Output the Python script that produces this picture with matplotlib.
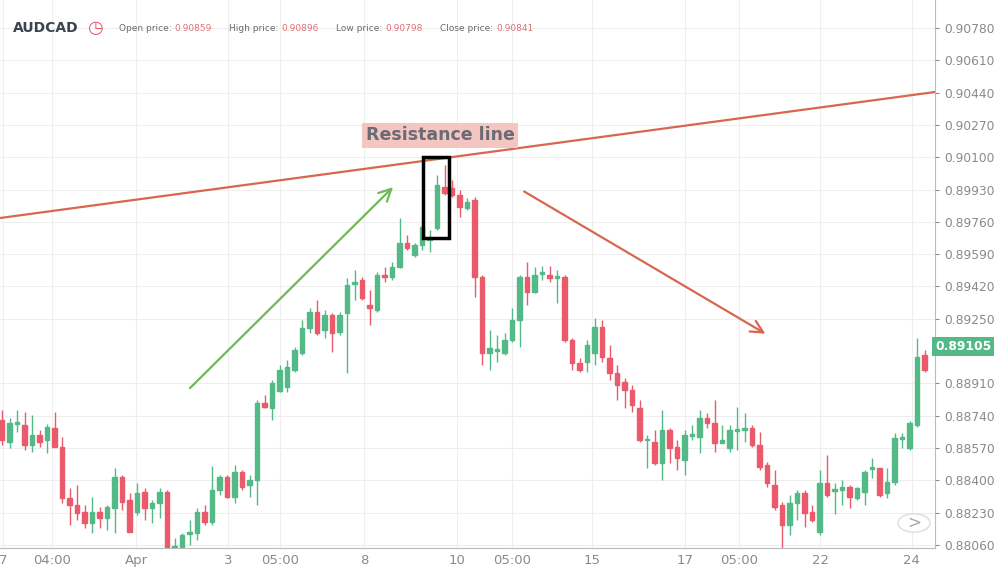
import matplotlib
matplotlib.use("Agg")
import matplotlib.pyplot as plt
from matplotlib.patches import Rectangle, Circle

opens = [0.88717,0.88601,0.88696,0.88690,0.88585,0.88638,0.88611,0.88674,0.88574,0.88306,
0.88269,0.88232,0.88174,0.88232,0.88201,0.88253,0.88416,0.88295,0.88232,0.88338,
0.88253,0.88280,0.88338,0.88043,0.88048,0.88117,0.88122,0.88232,0.88180,0.88348,
0.88416,0.88311,0.88443,0.88375,0.88401,0.88806,0.88780,0.88872,0.88890,0.88980,
0.89069,0.89201,0.89285,0.89190,0.89269,0.89180,0.89280,0.89432,0.89453,0.89322,
0.89295,0.89480,0.89469,0.89522,0.89648,0.89585,0.89638,0.89664,0.89727,0.89943,
0.89937,0.89901,0.89832,0.89874,0.89469,0.89069,0.89080,0.89069,0.89138,0.89243,
0.89469,0.89390,0.89485,0.89480,0.89464,0.89469,0.89138,0.89017,0.89022,0.89069,
0.89206,0.89043,0.88964,0.88917,0.88874,0.88780,0.88611,0.88601,0.88490,0.88664,
0.88574,0.88506,0.88632,0.88627,0.88727,0.88701,0.88596,0.88569,0.88659,0.88664,
0.88674,0.88585,0.88480,0.88375,0.88269,0.88164,0.88280,0.88332,0.88232,0.88127,
0.88385,0.88343,0.88348,0.88364,0.88306,0.88338,0.88459,0.88464,0.88332,0.88390,
0.88617,0.88569,0.88690,0.89059]
closes = [0.88611,0.88701,0.88706,0.88585,0.88638,0.88601,0.88680,0.88574,0.88306,0.88269,
0.88227,0.88174,0.88232,0.88201,0.88259,0.88416,0.88285,0.88127,0.88332,0.88253,
0.88280,0.88338,0.88043,0.88053,0.88111,0.88127,0.88232,0.88180,0.88348,0.88416,
0.88311,0.88443,0.88364,0.88401,0.88806,0.88785,0.88911,0.88980,0.88995,0.89085,
0.89201,0.89285,0.89174,0.89269,0.89174,0.89269,0.89427,0.89443,0.89358,0.89306,
0.89480,0.89469,0.89522,0.89648,0.89622,0.89638,0.89732,0.89669,0.89953,0.89911,
0.89901,0.89838,0.89864,0.89469,0.89069,0.89095,0.89090,0.89138,0.89243,0.89469,
0.89390,0.89480,0.89495,0.89464,0.89474,0.89138,0.89017,0.88980,0.89111,0.89206,
0.89048,0.88964,0.88901,0.88874,0.88796,0.88611,0.88617,0.88490,0.88664,0.88569,
0.88517,0.88638,0.88643,0.88727,0.88701,0.88596,0.88611,0.88664,0.88669,0.88674,
0.88585,0.88469,0.88385,0.88259,0.88164,0.88280,0.88332,0.88227,0.88190,0.88385,
0.88322,0.88353,0.88364,0.88311,0.88359,0.88443,0.88469,0.88322,0.88390,0.88622,
0.88627,0.88701,0.89048,0.88980]
highs = [0.88769,0.88727,0.88769,0.88759,0.88743,0.88664,0.88696,0.88759,0.88627,0.88359,
0.88374,0.88269,0.88311,0.88259,0.88269,0.88464,0.88427,0.88332,0.88385,0.88359,
0.88295,0.88359,0.88348,0.88096,0.88122,0.88190,0.88253,0.88269,0.88474,0.88427,
0.88427,0.88480,0.88453,0.88427,0.88822,0.88848,0.88927,0.89006,0.89032,0.89101,
0.89243,0.89306,0.89348,0.89295,0.89280,0.89285,0.89464,0.89506,0.89469,0.89401,
0.89495,0.89522,0.89548,0.89780,0.89690,0.89648,0.89743,0.89717,0.90006,0.90059,
0.89980,0.89927,0.89885,0.89890,0.89480,0.89190,0.89164,0.89174,0.89306,0.89480,
0.89548,0.89522,0.89527,0.89527,0.89506,0.89480,0.89148,0.89043,0.89138,0.89253,
0.89243,0.89111,0.89006,0.88938,0.88901,0.88822,0.88638,0.88664,0.88769,0.88674,
0.88611,0.88664,0.88690,0.88769,0.88753,0.88822,0.88690,0.88690,0.88785,0.88753,
0.88690,0.88653,0.88496,0.88453,0.88285,0.88322,0.88348,0.88348,0.88269,0.88453,
0.88532,0.88385,0.88401,0.88374,0.88364,0.88453,0.88517,0.88464,0.88464,0.88648,
0.88648,0.88711,0.89148,0.89085]
lows = [0.88585,0.88569,0.88653,0.88559,0.88548,0.88574,0.88543,0.88574,0.88280,0.88164,
0.88190,0.88148,0.88122,0.88148,0.88138,0.88122,0.88243,0.88127,0.88217,0.88190,
0.88174,0.88201,0.88022,0.88022,0.88022,0.88059,0.88085,0.88164,0.88164,0.88322,
0.88306,0.88280,0.88348,0.88311,0.88269,0.88780,0.88717,0.88864,0.88864,0.88969,
0.89059,0.89174,0.89164,0.89148,0.89074,0.89164,0.88964,0.89348,0.89348,0.89216,
0.89285,0.89443,0.89453,0.89517,0.89611,0.89574,0.89611,0.89601,0.89717,0.89901,
0.89890,0.89785,0.89822,0.89364,0.89006,0.88980,0.89022,0.89059,0.89127,0.89101,
0.89322,0.89385,0.89453,0.89443,0.89332,0.89127,0.88980,0.88969,0.88969,0.89006,
0.89022,0.88927,0.88822,0.88780,0.88759,0.88601,0.88464,0.88480,0.88401,0.88490,
0.88453,0.88427,0.88611,0.88543,0.88674,0.88548,0.88596,0.88548,0.88559,0.88601,
0.88574,0.88453,0.88364,0.88243,0.88043,0.88111,0.88190,0.88153,0.88180,0.88111,
0.88311,0.88222,0.88269,0.88253,0.88295,0.88269,0.88411,0.88311,0.88306,0.88375,
0.88569,0.88559,0.88680,0.88969]

price_ticks = [0.90780,0.90610,0.90440,0.90270,0.90100,0.89930,0.89760,0.89590,0.89420,
               0.89250,0.88910,0.88740,0.88570,0.88400,0.88230,0.88060]
time_pos = [0.1,6.7,17.9,30.1,37.1,48.3,60.7,68.0,78.7,91.1,98.3,109.1,121.3]
time_labels = ["7","04:00","Apr","3","05:00","8","10","05:00","15","17","05:00","22","24"]
last_price = 0.89105
header_labels = ["Open price:", "High price:", "Low price:", "Close price:"]
header_values = ["0.90859", "0.90896", "0.90798", "0.90841"]
resist_line = ([-0.27, 124.4], [0.89780, 0.90443])
up_arrow = ([24.8, 52.4], [0.88875, 0.89953])
down_arrow = ([69.3, 102.1], [0.89927, 0.89164])
box = (56.1, 59.6, 0.89674, 0.90100)

GREEN = "#53b987"; RED = "#eb5a6a"
fig = plt.figure(figsize=(10, 5.74), dpi=100)
ax = fig.add_axes([0, 0.045, 0.935, 0.955])
YMIN, YMAX = 0.88043, 0.90927
ax.set_xlim(-0.27, 124.4); ax.set_ylim(YMIN, YMAX)
for p in price_ticks:
    ax.axhline(p, color="#eeeeee", lw=0.8, zorder=0)
for t in time_pos:
    ax.axvline(t, color="#eeeeee", lw=0.8, zorder=0)
for i, (o, c, h, l) in enumerate(zip(opens, closes, highs, lows)):
    col = GREEN if c >= o else RED
    ax.vlines(i, l, h, color=col, lw=1, zorder=2)
    lo, hi = min(o, c), max(o, c)
    ax.add_patch(Rectangle((i - 0.33, lo), 0.66, max(hi - lo, 0.00004), color=col, zorder=3))
ax.plot(*resist_line, color="#d9664f", lw=1.6, zorder=4)
ax.annotate("", xy=(up_arrow[0][1], up_arrow[1][1]), xytext=(up_arrow[0][0], up_arrow[1][0]),
            arrowprops=dict(arrowstyle="->", color="#6fb85c", lw=1.6, mutation_scale=22))
ax.annotate("", xy=(down_arrow[0][1], down_arrow[1][1]), xytext=(down_arrow[0][0], down_arrow[1][0]),
            arrowprops=dict(arrowstyle="->", color="#d9664f", lw=1.6, mutation_scale=22))
ax.add_patch(Rectangle((box[0], box[2]), box[1] - box[0], box[3] - box[2], fill=False,
                       ec="black", lw=2.5, zorder=5))
ax.text(58.4, 0.90216, "Resistance line", ha="center", va="center", fontsize=12.5,
        fontweight="bold", color="#6b6b75", zorder=6,
        bbox=dict(boxstyle="square,pad=0.2", fc="#f3c6c1", ec="none"))
ax.set_xticks(time_pos); ax.set_xticklabels(time_labels)
ax.tick_params(axis="x", length=0, labelsize=9.5, colors="#8a8a8a", pad=4)
ax.yaxis.tick_right()
ax.set_yticks(price_ticks); ax.set_yticklabels([f"{p:.5f}" for p in price_ticks])
ax.tick_params(axis="y", length=3, labelsize=8.8, colors="#8a8a8a", pad=4)
for s in ["top", "left"]:
    ax.spines[s].set_visible(False)
ax.spines["right"].set_color("#bbbbbb"); ax.spines["bottom"].set_color("#bbbbbb")
ax.text(1.0, last_price, f"{last_price:.5f}", transform=ax.get_yaxis_transform(),
        ha="left", va="center", fontsize=8.8, fontweight="bold", color="white", zorder=7,
        bbox=dict(boxstyle="square,pad=0.25", fc=GREEN, ec="none"), clip_on=False)
fig.text(0.013, 0.951, "AUDCAD", fontsize=10, fontweight="bold", color="#3d4350", va="center")
fig.text(0.095, 0.951, "◷", fontsize=13, color="#e05a6a", ha="center", va="center")
label_x = [0.119, 0.229, 0.336, 0.440]
for lab, val, x in zip(header_labels, header_values, label_x):
    t = fig.text(x, 0.951, lab + " ", fontsize=6.5, color="#6a6a6a", va="center")
    fig.canvas.draw()
    bb = t.get_window_extent()
    fig.text(bb.x1 / fig.bbox.width, 0.951, val, fontsize=6.5, color="#e0707a", va="center")
fig.add_artist(Circle((0.914, 1 - 523 / 574), 0.016, transform=fig.transFigure,
                      fc="white", ec="#dddddd", lw=1))
fig.text(0.914, 1 - 523 / 574, ">", fontsize=12, color="#aaaaaa", ha="center", va="center")
fig.savefig("out.png", dpi=100)
